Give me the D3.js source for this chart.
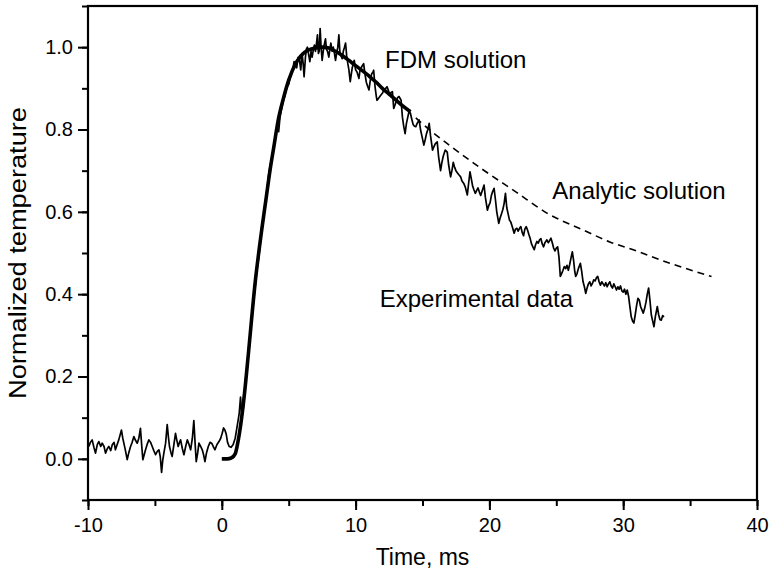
<!DOCTYPE html>
<html>
<head>
<meta charset="utf-8">
<script src="https://cdnjs.cloudflare.com/ajax/libs/d3/7.8.5/d3.min.js"></script>
<style>
  body { margin: 0; background: #fff; }
  text { font-family: Arial, "Liberation Sans", sans-serif; fill: #000; }
</style>
</head>
<body>
<div id="chart"></div>
<script>
// Experimental trace: [time ms, normalized temperature]
var experimental = [
  [-9.94,0.030],[-9.82,0.040],[-9.69,0.046],[-9.56,0.028],[-9.44,0.014],[-9.3,0.035],[-9.19,0.042],[-9.05,0.030],
  [-8.94,0.038],[-8.8,0.030],[-8.69,0.014],[-8.55,0.025],[-8.44,0.030],[-8.3,0.020],[-8.19,0.034],[-8.05,0.040],
  [-7.95,0.022],[-7.82,0.035],[-7.70,0.046],[-7.50,0.070],[-7.40,0.050],[-7.32,0.038],[-7.2,0.020],[-7.07,-0.002],
  [-6.95,0.015],[-6.82,0.030],[-6.7,0.040],[-6.57,0.054],[-6.45,0.045],[-6.32,0.038],[-6.2,0.050],[-6.08,0.074],
  [-5.98,0.030],[-5.90,-0.002],[-5.80,0.010],[-5.70,0.022],[-5.58,0.035],[-5.45,0.046],[-5.32,0.040],[-5.20,0.030],
  [-5.08,0.020],[-4.95,0.010],[-4.82,0.018],[-4.70,0.022],[-4.60,0.005],[-4.50,-0.033],[-4.42,-0.005],[-4.33,0.014],
  [-4.20,0.038],[-4.08,0.083],[-3.98,0.050],[-3.91,0.030],[-3.80,0.015],[-3.71,0.006],[-3.6,0.030],[-3.46,0.062],
  [-3.36,0.045],[-3.26,0.030],[-3.16,0.040],[-3.08,0.046],[-2.95,0.025],[-2.83,0.010],[-2.7,0.030],[-2.58,0.046],
  [-2.45,0.035],[-2.33,0.022],[-2.2,0.050],[-2.09,0.093],[-2.0,0.040],[-1.91,-0.007],[-1.8,0.015],[-1.71,0.038],
  [-1.58,0.030],[-1.46,0.022],[-1.36,0.010],[-1.26,-0.007],[-1.14,0.015],[-1.01,0.030],[-0.88,0.040],[-0.76,0.038],
  [-0.64,0.030],[-0.51,0.022],[-0.36,0.035],[-0.21,0.042],[-0.08,0.050],[0.03,0.062],[0.13,0.075],[0.23,0.070],
  [0.33,0.060],[0.43,0.040],[0.55,0.030],[0.7,0.028],[0.85,0.035],[1.0,0.050],[1.1,0.070],[1.2,0.090],
  [1.3,0.110],[1.4,0.150],[1.5,0.100],[1.6,0.120],[1.7,0.160],[1.8,0.200],[1.9,0.220],[2.0,0.255],
  [2.1,0.290],[2.2,0.330],[2.3,0.355],[2.4,0.390],[2.5,0.420],[2.6,0.455],[2.7,0.475],[2.8,0.500],
  [2.9,0.530],[3.0,0.560],[3.1,0.585],[3.2,0.610],[3.3,0.630],[3.4,0.660],[3.5,0.690],[3.6,0.710],
  [3.7,0.725],[3.8,0.740],[3.9,0.765],[4.0,0.780],[4.1,0.800],[4.25,0.795],[4.35,0.830],[4.5,0.855],
  [4.6,0.870],[4.7,0.880],[4.8,0.895],[4.9,0.905],[5.0,0.910],[5.1,0.925],[5.2,0.935],[5.3,0.945],
  [5.4,0.965],[5.5,0.955],[5.6,0.950],[5.7,0.975],[5.8,0.970],[5.9,0.945],[6.0,0.985],[6.08,0.960],
  [6.15,0.928],[6.25,0.975],[6.32,0.995],[6.4,1.000],[6.5,0.980],[6.58,0.965],[6.67,0.990],[6.75,0.976],
  [6.85,0.995],[6.92,1.005],[7.0,0.990],[7.08,1.010],[7.15,1.030],[7.22,0.985],[7.28,0.990],[7.35,1.045],
  [7.42,1.000],[7.5,0.968],[7.58,0.990],[7.65,1.005],[7.75,1.020],[7.82,0.995],[7.9,0.990],[8.0,0.976],
  [8.08,0.995],[8.15,1.010],[8.25,0.990],[8.33,1.000],[8.42,0.985],[8.5,0.968],[8.58,0.985],[8.67,1.000],
  [8.75,1.030],[8.82,0.990],[8.9,0.980],[9.0,0.972],[9.08,0.990],[9.17,1.000],[9.25,1.010],[9.33,0.980],
  [9.42,0.960],[9.5,0.945],[9.6,0.916],[9.68,0.935],[9.75,0.950],[9.82,0.960],[9.9,0.968],[10.0,0.945],
  [10.1,0.940],[10.25,0.924],[10.33,0.945],[10.42,0.950],[10.5,0.955],[10.6,0.960],[10.7,0.935],[10.8,0.915],
  [10.9,0.905],[11.0,0.896],[11.1,0.920],[11.2,0.935],[11.3,0.940],[11.35,0.944],[11.45,0.905],[11.55,0.880],
  [11.6,0.871],[11.7,0.875],[11.85,0.882],[12.0,0.888],[12.1,0.895],[12.2,0.898],[12.35,0.904],[12.45,0.895],
  [12.55,0.885],[12.65,0.890],[12.75,0.892],[12.85,0.851],[12.95,0.860],[13.05,0.870],[13.15,0.878],[13.25,0.880],
  [13.4,0.871],[13.5,0.830],[13.6,0.807],[13.7,0.790],[13.8,0.815],[13.9,0.830],[14.0,0.845],[14.1,0.839],
  [14.2,0.825],[14.3,0.812],[14.4,0.808],[14.5,0.807],[14.6,0.815],[14.75,0.823],[14.85,0.800],[14.95,0.785],
  [15.1,0.762],[15.2,0.775],[15.3,0.790],[15.4,0.800],[15.5,0.815],[15.6,0.785],[15.75,0.750],[15.85,0.758],
  [15.95,0.765],[16.1,0.770],[16.2,0.735],[16.35,0.700],[16.45,0.720],[16.55,0.735],[16.7,0.750],[16.85,0.745],
  [16.95,0.715],[17.1,0.685],[17.2,0.700],[17.3,0.720],[17.4,0.708],[17.5,0.700],[17.6,0.695],[17.72,0.690],
  [17.85,0.685],[17.95,0.675],[18.1,0.668],[18.2,0.660],[18.35,0.641],[18.45,0.670],[18.55,0.697],[18.65,0.680],
  [18.75,0.662],[18.85,0.653],[18.95,0.645],[19.05,0.652],[19.15,0.658],[19.25,0.648],[19.35,0.640],[19.5,0.655],
  [19.6,0.665],[19.7,0.635],[19.85,0.604],[19.95,0.615],[20.05,0.622],[20.15,0.640],[20.25,0.650],[20.35,0.657],
  [20.45,0.630],[20.55,0.600],[20.7,0.572],[20.8,0.585],[20.9,0.595],[21.0,0.605],[21.1,0.620],[21.2,0.645],
  [21.3,0.610],[21.4,0.595],[21.5,0.580],[21.6,0.575],[21.7,0.565],[21.85,0.548],[21.95,0.558],[22.05,0.560],
  [22.15,0.553],[22.25,0.560],[22.35,0.564],[22.45,0.550],[22.55,0.542],[22.65,0.558],[22.75,0.564],[22.85,0.556],
  [22.95,0.545],[23.05,0.535],[23.15,0.522],[23.25,0.515],[23.35,0.508],[23.45,0.520],[23.55,0.528],[23.65,0.524],
  [23.75,0.532],[23.85,0.535],[23.95,0.522],[24.05,0.515],[24.15,0.525],[24.3,0.532],[24.4,0.525],[24.5,0.530],
  [24.6,0.536],[24.7,0.525],[24.8,0.512],[24.9,0.505],[25.0,0.512],[25.1,0.515],[25.2,0.490],[25.3,0.443],
  [25.4,0.450],[25.5,0.458],[25.6,0.467],[25.7,0.462],[25.8,0.470],[25.9,0.458],[26.0,0.472],[26.1,0.488],
  [26.2,0.503],[26.3,0.480],[26.38,0.455],[26.45,0.443],[26.55,0.450],[26.65,0.462],[26.8,0.475],[26.9,0.455],
  [27.0,0.430],[27.1,0.418],[27.2,0.402],[27.3,0.415],[27.4,0.425],[27.5,0.430],[27.6,0.420],[27.7,0.426],
  [27.8,0.435],[27.9,0.432],[28.0,0.440],[28.1,0.443],[28.2,0.430],[28.3,0.422],[28.4,0.430],[28.5,0.425],
  [28.6,0.420],[28.7,0.428],[28.8,0.418],[28.9,0.425],[29.0,0.430],[29.1,0.420],[29.2,0.415],[29.3,0.425],
  [29.4,0.418],[29.5,0.410],[29.6,0.418],[29.7,0.412],[29.8,0.420],[29.9,0.408],[30.0,0.405],[30.1,0.412],
  [30.2,0.400],[30.3,0.410],[30.4,0.395],[30.5,0.370],[30.6,0.345],[30.7,0.335],[30.8,0.330],[30.9,0.350],
  [31.0,0.372],[31.1,0.390],[31.2,0.386],[31.3,0.370],[31.4,0.362],[31.5,0.354],[31.6,0.365],[31.7,0.380],
  [31.8,0.400],[31.9,0.415],[32.0,0.385],[32.1,0.350],[32.2,0.335],[32.3,0.321],[32.4,0.345],[32.5,0.362],
  [32.55,0.370],[32.65,0.350],[32.75,0.338],[32.85,0.337],[32.95,0.348],[33.05,0.345]
];

// FDM solution (thick line)
var fdmSolution = [
  [0,0],[0.4,0],[0.7,0.002],[1.0,0.012],[1.2,0.04],[1.4,0.08],[1.7,0.16],[2.0,0.26],[2.5,0.43],
  [3.0,0.56],[3.3,0.63],[3.6,0.70],[3.9,0.76],[4.2,0.82],[4.6,0.875],[5.0,0.92],[5.6,0.965],
  [6.2,0.988],[7.0,0.998],[7.5,1.0],[8.0,0.998],[8.5,0.99],[9.0,0.98],[9.5,0.968],[10,0.955],
  [10.5,0.943],[11,0.93],[11.5,0.916],[12,0.90],[12.5,0.886],[13,0.872],[13.5,0.858],[14.1,0.843]
];

// Analytic solution (dashed, visible part)
var analyticSolution = [
  [14.5,0.828],[15.5,0.80],[17,0.762],[19.4,0.705],[22,0.648],[24.3,0.597],[27,0.556],
  [29,0.527],[30.8,0.507],[33.5,0.475],[36.6,0.443]
];

var xTicks = [-10, 0, 10, 20, 30, 40];
var yTicks = [0.0, 0.2, 0.4, 0.6, 0.8, 1.0];

var labels = [
  {text: "FDM solution", t: 12.2, v: 0.95},
  {text: "Analytic solution", t: 24.7, v: 0.63},
  {text: "Experimental data", t: 11.8, v: 0.37}
];

var svgWidth = 772, svgHeight = 577;
var margin = {top: 6, right: 15, bottom: 77, left: 88};
var chartWidth = svgWidth - margin.left - margin.right;
var chartHeight = svgHeight - margin.top - margin.bottom;

var svg = d3.select("#chart").append("svg")
  .attr("width", svgWidth)
  .attr("height", svgHeight);

var chartGroup = svg.append("g")
  .attr("transform", `translate(${margin.left}, ${margin.top})`);

var xScale = d3.scaleLinear().domain([-10, 40]).range([0, chartWidth]);
var yScale = d3.scaleLinear().domain([-0.1, 1.1]).range([chartHeight, 0]);

// minor ticks
var xAxisMinor = d3.axisBottom(xScale).tickValues(d3.range(-10, 41, 5)).tickSize(6).tickFormat("");
var yAxisMinor = d3.axisLeft(yScale).tickValues(d3.range(-0.1, 1.11, 0.1)).tickSize(6).tickFormat("");

chartGroup.append("g").attr("class", "axis")
  .attr("transform", `translate(0, ${chartHeight})`).call(xAxisMinor);
chartGroup.append("g").attr("class", "axis").call(yAxisMinor);

// plain hyphen for negatives, like the original
var xAxis = d3.axisBottom(xScale).tickValues(xTicks).tickSize(10).tickPadding(8)
  .tickFormat(d => String(d));
var yAxis = d3.axisLeft(yScale).tickValues(yTicks).tickSize(10).tickPadding(5)
  .tickFormat(d => d.toFixed(1));

chartGroup.append("g").attr("class", "axis")
  .attr("transform", `translate(0, ${chartHeight})`).call(xAxis);
chartGroup.append("g").attr("class", "axis").call(yAxis);

chartGroup.selectAll(".axis .domain").remove();
chartGroup.selectAll(".axis line").attr("stroke", "#000").attr("stroke-width", 2);
chartGroup.selectAll(".axis text")
  .style("font-size", "20px")
  .style("font-family", "Arial, 'Liberation Sans', sans-serif");

// frame
chartGroup.append("rect")
  .attr("x", 0).attr("y", 0)
  .attr("width", chartWidth).attr("height", chartHeight)
  .attr("fill", "none").attr("stroke", "#000").attr("stroke-width", 2.2);

var line = d3.line()
  .x(d => xScale(d[0]))
  .y(d => yScale(d[1]));

var smooth = d3.line()
  .x(d => xScale(d[0]))
  .y(d => yScale(d[1]))
  .curve(d3.curveMonotoneX);

chartGroup.append("path")
  .datum(analyticSolution)
  .attr("d", smooth)
  .attr("fill", "none").attr("stroke", "#000")
  .attr("stroke-width", 1.6).attr("stroke-dasharray", "7,5");

chartGroup.append("path")
  .datum(experimental)
  .attr("d", line)
  .attr("fill", "none").attr("stroke", "#000")
  .attr("stroke-width", 1.7).attr("stroke-linejoin", "round");

chartGroup.append("path")
  .datum(fdmSolution)
  .attr("d", smooth)
  .attr("fill", "none").attr("stroke", "#000")
  .attr("stroke-width", 3.6).attr("stroke-linecap", "butt");

// annotations
chartGroup.selectAll(".note")
  .data(labels)
  .enter()
  .append("text")
  .attr("class", "note")
  .attr("x", d => xScale(d.t))
  .attr("y", d => yScale(d.v))
  .style("font-size", "24px")
  .text(d => d.text);

// axis titles
chartGroup.append("text")
  .attr("text-anchor", "middle")
  .attr("x", chartWidth / 2)
  .attr("y", chartHeight + 65)
  .style("font-size", "23px")
  .text("Time, ms");

chartGroup.append("text")
  .attr("text-anchor", "middle")
  .attr("transform", "rotate(-90)")
  .attr("x", -chartHeight / 2)
  .attr("y", 26 - margin.left)
  .style("font-size", "23px")
  .attr("textLength", 292)
  .attr("lengthAdjust", "spacingAndGlyphs")
  .text("Normalized temperature");
</script>
</body>
</html>
